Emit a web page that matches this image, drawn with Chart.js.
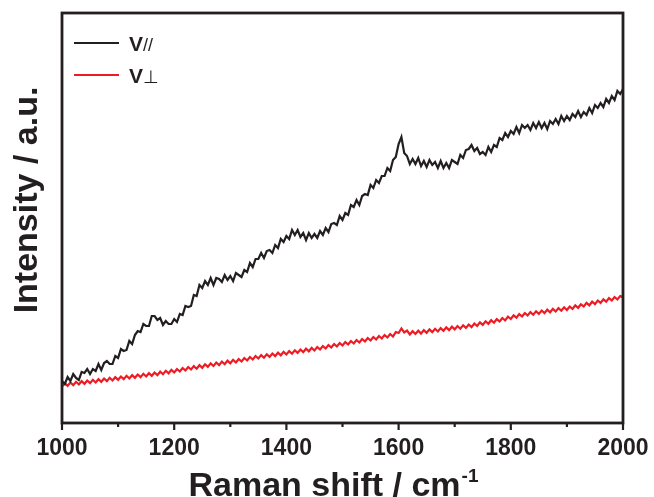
<!DOCTYPE html>
<html>
<head>
    <title>Raman spectra</title>
    <script src="https://cdn.jsdelivr.net/npm/chart.js"></script>
    <style>
        html, body { margin: 0; padding: 0; background: #fff; }
        canvas { display: block; }
    </style>
</head>
<body>
    <canvas id="ramanChart" width="654" height="497"></canvas>

    <script>
        // Sampling positions (cm-1), every 5 from 1000 to 2000
        const ramanShift = Array.from({ length: 201 }, (_, i) => 1000 + 5 * i);

        // Tick labels on the x axis
        const majorTicks = [1000, 1200, 1400, 1600, 1800, 2000];
        const minorTicks = [1100, 1300, 1500, 1700, 1900];

        // V// (parallel) intensity
        const vParallel = [
            42, 39, 46, 42, 49, 45, 43, 51, 50, 54,
            49, 54, 52, 59, 53, 60, 62, 59, 59, 67,
            65, 74, 72, 73, 82, 79, 88, 92, 91, 99,
            97, 97, 107, 107, 103, 105, 98, 102, 99, 99,
            104, 101, 109, 108, 117, 116, 117, 128, 127, 138,
            135, 142, 138, 145, 138, 145, 144, 141, 148, 143,
            147, 142, 150, 148, 146, 153, 151, 160, 156, 164,
            164, 170, 165, 172, 173, 170, 178, 175, 184, 181,
            187, 184, 193, 188, 193, 186, 190, 183, 190, 185,
            189, 185, 192, 188, 195, 191, 199, 200, 198, 207,
            203, 210, 208, 218, 216, 223, 218, 227, 229, 228,
            238, 235, 243, 240, 247, 247, 255, 252, 263, 266,
            279, 286, 270, 267, 259, 264, 259, 265, 257, 262,
            256, 263, 258, 261, 255, 262, 255, 260, 255, 263,
            261, 259, 268, 265, 273, 274, 278, 272, 275, 269,
            271, 268, 276, 271, 278, 276, 285, 283, 290, 286,
            292, 289, 296, 290, 298, 295, 298, 293, 300, 295,
            301, 295, 300, 294, 302, 299, 304, 299, 307, 302,
            307, 303, 309, 306, 312, 306, 311, 308, 315, 310,
            318, 315, 320, 316, 324, 320, 327, 323, 332, 329,
            334
        ];

        // V⊥ (perpendicular) intensity
        const vPerpendicular = [
            36.5, 39.8, 37.2, 40.5, 37.9, 41.2, 38.5, 41.8, 39.2, 42.5,
            39.9, 43.2, 40.5, 43.8, 41.2, 44.5, 41.9, 45.2, 42.5, 45.8,
            43.2, 46.5, 43.9, 47.2, 44.5, 47.8, 45.2, 48.5, 45.9, 49.2,
            46.5, 49.8, 47.2, 50.5, 47.9, 51.3, 48.8, 52.2, 49.7, 53.1,
            50.5, 54.0, 51.5, 55.0, 52.5, 56.0, 53.5, 56.9, 54.3, 57.8,
            55.2, 58.7, 56.1, 59.6, 57.0, 60.5, 57.9, 61.4, 58.8, 62.3,
            59.7, 63.1, 60.5, 64.0, 61.5, 65.0, 62.5, 66.0, 63.5, 67.0,
            64.5, 67.9, 65.3, 68.7, 66.1, 69.5, 66.9, 70.3, 67.7, 71.1,
            68.5, 71.9, 69.3, 72.7, 70.1, 73.5, 70.9, 74.3, 71.7, 75.1,
            72.5, 76.0, 73.5, 77.0, 74.5, 78.0, 75.5, 79.0, 76.5, 80.0,
            77.5, 81.0, 78.5, 82.0, 79.5, 83.0, 80.5, 84.0, 81.5, 85.0,
            82.5, 86.0, 83.5, 87.0, 84.5, 88.0, 85.5, 89.0, 86.5, 91.0,
            90.0, 94.5, 90.5, 92.5, 88.5, 91.8, 89.0, 92.3, 89.5, 92.9,
            90.2, 93.6, 90.9, 94.2, 91.5, 94.9, 92.2, 95.6, 92.9, 96.3,
            93.6, 97.0, 94.3, 97.7, 95.1, 98.5, 95.9, 99.5, 97.0, 100.6,
            98.1, 101.7, 99.2, 102.8, 100.3, 103.9, 101.5, 105.0, 102.5, 106.3,
            104.0, 107.7, 105.3, 108.9, 106.5, 110.0, 107.5, 110.9, 108.3, 111.7,
            109.1, 112.5, 109.9, 113.3, 110.7, 114.1, 111.5, 114.9, 112.3, 115.7,
            113.0, 116.5, 114.0, 117.6, 115.2, 118.8, 116.5, 120.1, 117.7, 121.3,
            118.9, 122.5, 120.1, 123.7, 121.3, 124.9, 122.5, 126.0, 123.5, 127.0,
            126.0
        ];

        const BLACK = '#231f20';
        const RED = '#ed1c24';
        const FONT = '"Liberation Sans", Arial, sans-serif';

        // Frame, ticks, labels, titles and legend
        const framePlugin = {
            id: 'framePlugin',
            afterDraw(chart) {
                const ctx = chart.ctx;
                const area = chart.chartArea;
                const x = chart.scales.x;
                ctx.save();

                // frame
                ctx.strokeStyle = BLACK;
                ctx.lineWidth = 2.8;
                ctx.strokeRect(area.left, area.top, area.right - area.left, area.bottom - area.top);

                // ticks
                ctx.lineWidth = 2.2;
                majorTicks.forEach(v => {
                    const px = x.getPixelForValue(v);
                    ctx.beginPath();
                    ctx.moveTo(px, area.bottom);
                    ctx.lineTo(px, area.bottom + 7);
                    ctx.stroke();
                });
                minorTicks.forEach(v => {
                    const px = x.getPixelForValue(v);
                    ctx.beginPath();
                    ctx.moveTo(px, area.bottom);
                    ctx.lineTo(px, area.bottom + 4);
                    ctx.stroke();
                });

                // tick labels
                ctx.fillStyle = BLACK;
                ctx.font = 'bold 23px ' + FONT;
                ctx.textAlign = 'center';
                ctx.textBaseline = 'alphabetic';
                majorTicks.forEach(v => {
                    ctx.fillText(String(v), x.getPixelForValue(v), 455);
                });

                // x title with superscript
                ctx.font = 'bold 34px ' + FONT;
                const main = 'Raman shift / cm';
                const mainW = ctx.measureText(main).width;
                ctx.font = 'bold 19px ' + FONT;
                const sup = '-1';
                const supW = ctx.measureText(sup).width;
                const startX = 333 - (mainW + supW) / 2;
                ctx.textAlign = 'left';
                ctx.font = 'bold 34px ' + FONT;
                ctx.fillText(main, startX, 496);
                ctx.font = 'bold 19px ' + FONT;
                ctx.fillText(sup, startX + mainW + 1, 482);

                // y title
                ctx.save();
                ctx.translate(37, 200);
                ctx.rotate(-Math.PI / 2);
                ctx.textAlign = 'center';
                ctx.font = 'bold 34px ' + FONT;
                ctx.fillText('Intensity / a.u.', 0, 0);
                ctx.restore();

                // legend
                const legend = [
                    { color: BLACK, y: 43, suffix: '//' },
                    { color: RED, y: 75, suffix: '\u22A5' }
                ];
                legend.forEach(item => {
                    ctx.strokeStyle = item.color;
                    ctx.lineWidth = 2;
                    ctx.beginPath();
                    ctx.moveTo(74, item.y);
                    ctx.lineTo(119, item.y);
                    ctx.stroke();
                    ctx.fillStyle = BLACK;
                    ctx.textAlign = 'left';
                    ctx.font = 'bold 21px ' + FONT;
                    ctx.fillText('V', 129, item.y + 8);
                    const vW = ctx.measureText('V').width;
                    ctx.font = '18px ' + FONT;
                    ctx.fillText(item.suffix, 129 + vW, item.y + 8);
                });

                ctx.restore();
            }
        };

        new Chart(document.getElementById('ramanChart'), {
            type: 'line',
            data: {
                labels: ramanShift,
                datasets: [{
                    label: 'V//',
                    data: ramanShift.map((s, i) => ({ x: s, y: vParallel[i] })),
                    borderColor: BLACK,
                    borderWidth: 2.2,
                    pointRadius: 0,
                    tension: 0
                }, {
                    label: 'V\u22A5',
                    data: ramanShift.map((s, i) => ({ x: s, y: vPerpendicular[i] })),
                    borderColor: RED,
                    borderWidth: 2.2,
                    pointRadius: 0,
                    tension: 0
                }]
            },
            options: {
                responsive: false,
                animation: false,
                devicePixelRatio: 1,
                layout: { padding: { left: 62, right: 31, top: 13, bottom: 74 } },
                plugins: { legend: { display: false }, tooltip: { enabled: false } },
                scales: {
                    x: { type: 'linear', min: 1000, max: 2000, display: false },
                    y: { type: 'linear', min: 0, max: 410, display: false }
                }
            },
            plugins: [framePlugin]
        });
    </script>
</body>
</html>
